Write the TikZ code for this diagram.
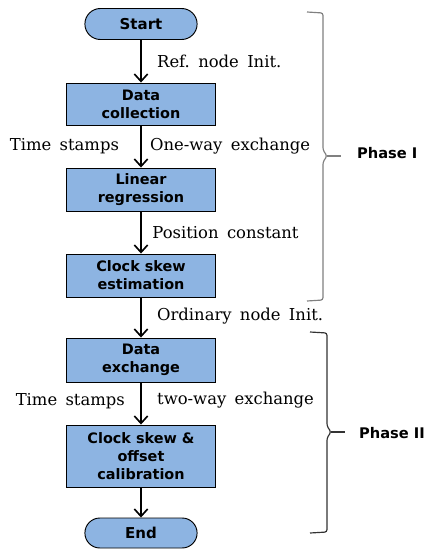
\documentclass[tikz,border=0pt]{standalone}
\usepackage{fontspec}
\setmainfont{DejaVu Serif}[WordSpace=1.6]
\setsansfont{DejaVu Sans}
\usetikzlibrary{positioning}
\usetikzlibrary{arrows.meta}
\usetikzlibrary{shapes.misc}
\definecolor{boxblue}{RGB}{141,180,226}
\tikzset{ed/.style={inner sep=2pt,font=\fontsize{14}{16}\selectfont}}
\tikzset{>={Straight Barb[length=2.2mm,width=4mm,line width=1.4pt]}}
\tikzset{blk/.style={draw,rectangle,fill=boxblue,line width=0.8pt,minimum width=4.47cm,
    align=center,font=\sffamily\bfseries\fontsize{12.3}{15.5}\selectfont}}
\tikzset{term/.style={draw,rounded rectangle,fill=boxblue,line width=0.8pt,minimum width=3.6cm,
    minimum height=0.93cm,font=\sffamily\bfseries\fontsize{12.8}{15}\selectfont}}
\tikzset{flow/.style={->,line width=1.6pt}}
\tikzset{brace/.style={line width=1pt,rounded corners=2pt}}

\begin{document}
\begin{tikzpicture}[x=0.03cm,y=-0.03cm]
    \useasboundingbox (0,0) rectangle (431,550);

    \node[term] (start) at (141,24) {Start};
    \node[blk, minimum height=1.26cm] (dc) at (141,104) {Data\\collection};
    \node[blk, minimum height=1.29cm] (lr) at (141,189.5) {Linear\\regression};
    \node[blk, minimum height=1.29cm] (cse) at (141,275.5) {Clock skew\\estimation};
    \node[blk, minimum height=1.32cm] (de) at (141,360) {Data\\exchange};
    \node[blk, minimum height=1.86cm] (cal) at (141,456) {Clock skew \&\\offset\\calibration};
    \node[term, minimum height=0.9cm] (end) at (141,533) {End};

    \draw[flow] (start) -- node[ed,right,xshift=11pt] {Ref.\ node Init.} (dc);
    \draw[flow] (dc) -- node[ed,left,xshift=-16pt] {Time stamps}
        node[ed,right,xshift=5pt] {One-way exchange} (lr);
    \draw[flow] (lr) -- node[ed,right,xshift=7pt] {Position constant} (cse);
    \draw[flow] (cse) -- node[ed,right,xshift=11pt,yshift=1pt] {Ordinary node Init.} (de);
    \draw[flow] (de) -- node[ed,left,xshift=-11pt,yshift=2pt] {Time stamps}
        node[ed,right,xshift=11pt,yshift=3pt] {two-way exchange} (cal);
    \draw[flow] (cal) -- (end);

    % phase braces
    \draw[brace,gray] (307,12) -- (323,13) -- (323,150) -- (327,156) -- (323,162)
        -- (323,300) -- (307,301);
    \draw[brace,gray] (327,156) -- (341,156);
    \draw[brace,black!80] (310,332) -- (327,333) -- (327,426) -- (331,432) -- (327,438)
        -- (327,532) -- (310,533);
    \draw[brace,black!80] (331,432) -- (345,432);

    \node[anchor=west,font=\sffamily\bfseries\fontsize{12.5}{15}\selectfont] (ph1) at (353,153) {Phase I};
    \node[anchor=west,font=\sffamily\bfseries\fontsize{12.5}{15}\selectfont] (ph2) at (355,433) {Phase II};
\end{tikzpicture}
\end{document}
